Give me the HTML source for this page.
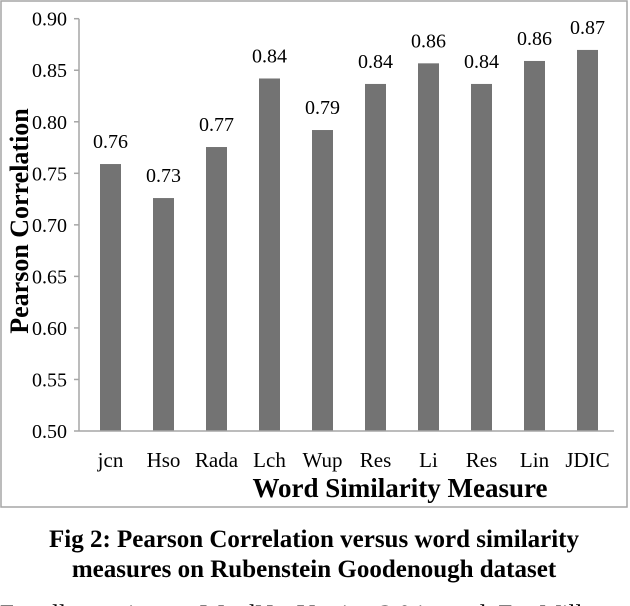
<!DOCTYPE html>
<html><head><meta charset="utf-8"><style>
body{margin:0;background:#fff;width:630px;height:606px;overflow:hidden;font-family:"Liberation Serif",serif;}
svg{display:block}
</style></head><body>
<svg width="630" height="606">
<rect x="1" y="1" width="626" height="506" fill="#fff" stroke="#a6a6a6" stroke-width="1.5"/>
<g id="yticks"></g>
<g id="bars"></g>
<line x1="79" y1="431" x2="614" y2="431" stroke="#a6a6a6" stroke-width="1.5"/>
<line x1="79" y1="18.7" x2="79" y2="431" stroke="#a6a6a6" stroke-width="1.5"/>
<text x="28" y="221" transform="rotate(-90 28 221)" text-anchor="middle" font-size="26" font-weight="bold">Pearson Correlation</text>
<text x="400" y="497" text-anchor="middle" font-size="27" font-weight="bold">Word Similarity Measure</text>
<text x="314" y="547" text-anchor="middle" font-size="25" font-weight="bold">Fig 2: Pearson Correlation versus word similarity</text>
<text x="314" y="577" text-anchor="middle" font-size="25" font-weight="bold">measures on Rubenstein Goodenough dataset</text>
<text x="0" y="622" font-size="25">For all experiments WordNet Version 3.0 is used. For Miller</text>
</svg>
<script>
const categories=["jcn","Hso","Rada","Lch","Wup","Res","Li","Res","Lin","JDIC"];
const values=[0.759,0.726,0.7755,0.842,0.792,0.8367,0.8567,0.8367,0.859,0.8697];
const labels=["0.76","0.73","0.77","0.84","0.79","0.84","0.86","0.84","0.86","0.87"];
const yTicks=[0.50,0.55,0.60,0.65,0.70,0.75,0.80,0.85,0.90];
const NS="http://www.w3.org/2000/svg";
const yMin=0.5,yMax=0.9,plotTop=18.7,plotBot=431,plotX0=84,plotX1=614;
function yScale(v){return plotBot-(v-yMin)/(yMax-yMin)*(plotBot-plotTop);}
function xCenter(i){const w=(plotX1-plotX0)/categories.length;return plotX0+w*(i+0.5);}
const yg=document.getElementById('yticks');
yTicks.forEach(t=>{
 const l=document.createElementNS(NS,'line');
 l.setAttribute('x1',74);l.setAttribute('x2',79);l.setAttribute('y1',yScale(t));l.setAttribute('y2',yScale(t));
 l.setAttribute('stroke','#a6a6a6');l.setAttribute('stroke-width','1.5');
 
 
 yg.appendChild(l);
 const tx=document.createElementNS(NS,'text');
 tx.setAttribute('x',67);tx.setAttribute('y',yScale(t)+7);tx.setAttribute('text-anchor','end');tx.setAttribute('font-size','20');
 tx.textContent=t.toFixed(2);
 
 
 yg.appendChild(tx);
});
const bg=document.getElementById('bars');
categories.forEach((c,i)=>{
 const cx=xCenter(i),bw=21;
 const r=document.createElementNS(NS,'rect');
 r.setAttribute('x',cx-bw/2);r.setAttribute('y',yScale(values[i]));r.setAttribute('width',bw);r.setAttribute('height',plotBot-yScale(values[i]));
 r.setAttribute('fill','#737373');
 
 
 bg.appendChild(r);
 const v=document.createElementNS(NS,'text');
 v.setAttribute('x',cx);v.setAttribute('y',yScale(values[i])-16);v.setAttribute('text-anchor','middle');v.setAttribute('font-size','20');
 v.textContent=labels[i];
 
 
 bg.appendChild(v);
 const t=document.createElementNS(NS,'text');
 t.setAttribute('x',cx);t.setAttribute('y',467);t.setAttribute('text-anchor','middle');t.setAttribute('font-size','21');
 t.textContent=c;
 
 
 bg.appendChild(t);
});
</script>
</body></html>
